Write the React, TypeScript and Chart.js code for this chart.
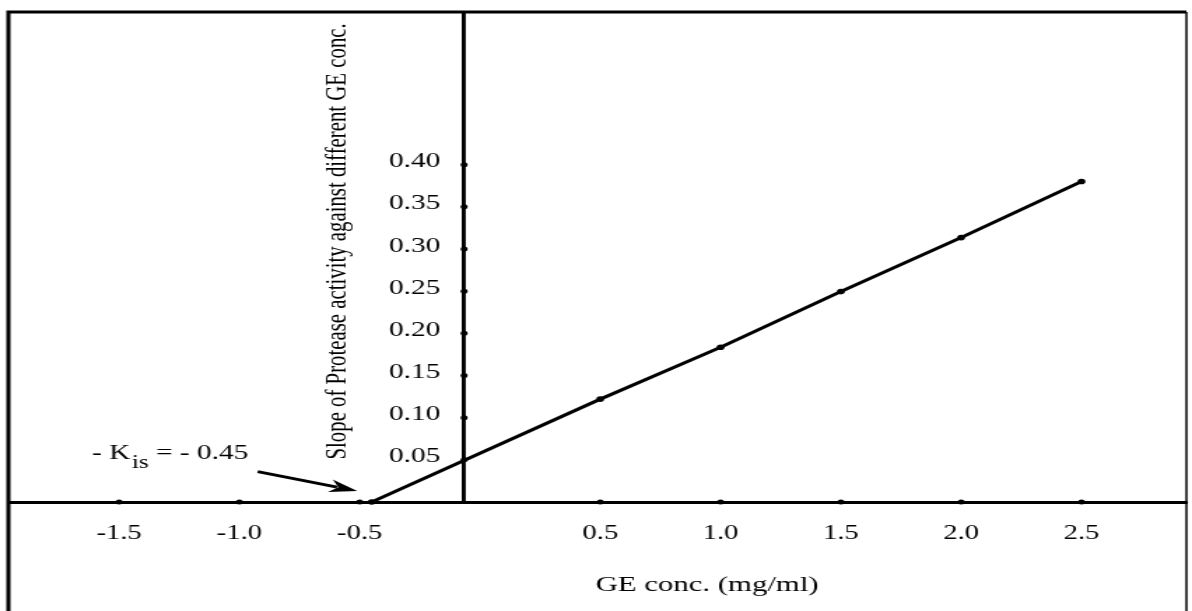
import { useEffect, useRef } from 'react';
import { Chart, registerables } from 'chart.js';

Chart.register(...registerables);

// ---- data ----
const geConc = [-0.45, 0.5, 1.0, 1.5, 2.0, 2.5];
const slopeValues = [0, 0.122, 0.1835, 0.2495, 0.3135, 0.38];
const xTickValues = [-1.5, -1.0, -0.5, 0.5, 1.0, 1.5, 2.0, 2.5];
const yTickValues = [0.05, 0.1, 0.15, 0.2, 0.25, 0.3, 0.35, 0.4];
const xAxisTitle = 'GE conc. (mg/ml)';
const yAxisTitle = 'Slope of Protease activity against different GE conc.';
const annotMain = '- K';
const annotSub = 'is';
const annotRest = ' = - 0.45';

// ---- scale ranges / anchors (data units) ----
const X_MIN = -1.96;
const X_MAX = 2.936;
const Y_MIN = 0;
const Y_MAX = 0.581;
const Y_AXIS_AT = -0.066;
const X_TITLE_X = 0.944;
const Y_TITLE_AT = { x: -0.59, y: 0.309 };
const ANNOT_AT = { x: -1.612, y: 0.0507 };
const ARROW_FROM = { x: -0.924, y: 0.036 };
const ARROW_TO = { x: -0.51, y: 0.013 };

const CANVAS_W = 852;
const CANVAS_H = 611;
const STRETCH = 1192 / CANVAS_W;
const FONT = '"Liberation Serif", "Times New Roman", serif';
const INK = '#000';
const TEXT = '#000';

export default function App() {
  const ref = useRef<HTMLCanvasElement | null>(null);

  useEffect(() => {
    const canvas = ref.current;
    if (!canvas) return;
    const yLabelPad = 17;

    const decor = {
      id: 'decor',
      beforeDraw(chart: any) {
        const ys = chart.scales.y;
        const xs = chart.scales.x;
        const axisPx = xs.getPixelForValue(Y_AXIS_AT);
        const items = ys.getLabelItems ? ys.getLabelItems() : [];
        for (const it of items) {
          const t = (it.options && it.options.translation) || it.translation;
          if (t && t[0] > axisPx - 5) t[0] = axisPx - yLabelPad;
        }
      },
      afterDraw(chart: any) {
        const { ctx, chartArea, scales } = chart;
        const xs = scales.x;
        const ys = scales.y;
        ctx.save();
        ctx.strokeStyle = INK;
        ctx.fillStyle = INK;
        // frame (top, left, right)
        ctx.lineWidth = 3;
        ctx.beginPath();
        ctx.moveTo(chartArea.left, CANVAS_H + 5);
        ctx.lineTo(chartArea.left, chartArea.top);
        ctx.lineTo(chartArea.right, chartArea.top);
        ctx.stroke();
        ctx.lineWidth = 1.5;
        ctx.beginPath();
        ctx.moveTo(chartArea.right, chartArea.top);
        ctx.lineTo(chartArea.right, CANVAS_H + 5);
        ctx.stroke();

        // tick dots
        const r = 2.5;
        for (const v of xTickValues) {
          ctx.beginPath();
          ctx.arc(xs.getPixelForValue(v), chartArea.bottom, r, 0, Math.PI * 2);
          ctx.fill();
        }
        const ax = xs.getPixelForValue(Y_AXIS_AT);
        for (const v of yTickValues) {
          ctx.beginPath();
          ctx.arc(ax, ys.getPixelForValue(v), r, 0, Math.PI * 2);
          ctx.fill();
        }

        // x title
        ctx.fillStyle = TEXT;
        ctx.font = `22px ${FONT}`;
        ctx.textAlign = 'center';
        ctx.textBaseline = 'alphabetic';
        ctx.fillText(xAxisTitle, xs.getPixelForValue(X_TITLE_X), chartArea.bottom + 89);

        // y title
        ctx.save();
        ctx.translate(xs.getPixelForValue(Y_TITLE_AT.x), ys.getPixelForValue(Y_TITLE_AT.y));
        ctx.rotate(-Math.PI / 2);
        ctx.font = `20.8px ${FONT}`;
        ctx.textAlign = 'center';
        ctx.textBaseline = 'middle';
        ctx.fillText(yAxisTitle, 0, 0);
        ctx.restore();

        // annotation text
        let tx = xs.getPixelForValue(ANNOT_AT.x);
        const ty = ys.getPixelForValue(ANNOT_AT.y);
        ctx.textAlign = 'left';
        ctx.textBaseline = 'alphabetic';
        ctx.font = `21px ${FONT}`;
        ctx.fillText(annotMain, tx, ty);
        tx += ctx.measureText(annotMain).width + 1;
        ctx.font = `18px ${FONT}`;
        ctx.fillText(annotSub, tx, ty + 9);
        tx += ctx.measureText(annotSub).width;
        ctx.font = `21px ${FONT}`;
        ctx.fillText(annotRest, tx, ty);

        // arrow
        const x1 = xs.getPixelForValue(ARROW_FROM.x);
        const y1 = ys.getPixelForValue(ARROW_FROM.y);
        const x2 = xs.getPixelForValue(ARROW_TO.x);
        const y2 = ys.getPixelForValue(ARROW_TO.y);
        const ang = Math.atan2(y2 - y1, x2 - x1);
        const hl = 20;
        const hw = 6.5;
        ctx.strokeStyle = INK;
        ctx.fillStyle = INK;
        ctx.lineWidth = 2.8;
        ctx.beginPath();
        ctx.moveTo(x1, y1);
        ctx.lineTo(x2 - Math.cos(ang) * (hl - 5), y2 - Math.sin(ang) * (hl - 5));
        ctx.stroke();
        ctx.save();
        ctx.translate(x2, y2);
        ctx.rotate(ang);
        ctx.beginPath();
        ctx.moveTo(0, 0);
        ctx.lineTo(-hl, -hw);
        ctx.lineTo(-hl + 6, 0);
        ctx.lineTo(-hl, hw);
        ctx.closePath();
        ctx.fill();
        ctx.restore();

        ctx.restore();
      },
    };

    const chart = new Chart(canvas, {
      type: 'scatter',
      data: {
        datasets: [
          {
            data: geConc.map((x, i) => ({ x, y: slopeValues[i] })),
            showLine: true,
            borderColor: INK,
            borderWidth: 3,
            pointRadius: 2.8,
            pointBackgroundColor: INK,
            pointBorderWidth: 0,
            tension: 0,
            clip: false as any,
          },
        ],
      },
      options: {
        animation: false,
        responsive: false,
        devicePixelRatio: 1,
        layout: { padding: { left: 6, right: 1, top: 12, bottom: 0 } },
        plugins: { legend: { display: false }, tooltip: { enabled: false } },
        scales: {
          x: {
            type: 'linear',
            position: 'bottom',
            min: X_MIN,
            max: X_MAX,
            grid: { display: false, drawTicks: false },
            border: { display: true, color: INK, width: 3 },
            ticks: {
              padding: 19,
              color: TEXT,
              font: { family: FONT, size: 20.5 },
              callback: (v: any) => Number(v).toFixed(1),
            },
            afterBuildTicks: (s: any) => {
              s.ticks = xTickValues.map((v) => ({ value: v }));
            },
            afterFit: (s: any) => {
              s.height = 109;
              s.paddingLeft = 0;
              s.paddingRight = 0;
            },
          },
          y: {
            type: 'linear',
            position: { x: Y_AXIS_AT } as any,
            min: Y_MIN,
            max: Y_MAX,
            grid: { display: false, drawTicks: false },
            border: { display: true, color: INK, width: 2.9 },
            ticks: {
              padding: yLabelPad,
              labelOffset: -3,
              color: TEXT,
              font: { family: FONT, size: 21 },
              callback: (v: any) => Number(v).toFixed(2),
            },
            afterBuildTicks: (s: any) => {
              s.ticks = yTickValues.map((v) => ({ value: v }));
            },
            afterFit: (s: any) => {
              s.paddingTop = 0;
              s.paddingBottom = 0;
            },
          },
        },
      },
      plugins: [decor],
    });

    return () => chart.destroy();
  }, []);

  return (
    <div
      style={{
        position: 'fixed',
        left: 0,
        top: 0,
        width: 1192,
        height: 611,
        overflow: 'hidden',
        background: '#fff',
      }}
    >
      <canvas
        ref={ref}
        width={CANVAS_W}
        height={CANVAS_H}
        style={{
          display: 'block',
          width: CANVAS_W,
          height: CANVAS_H,
          transform: `scaleX(${STRETCH})`,
          transformOrigin: '0 0',
        }}
      />
    </div>
  );
}
